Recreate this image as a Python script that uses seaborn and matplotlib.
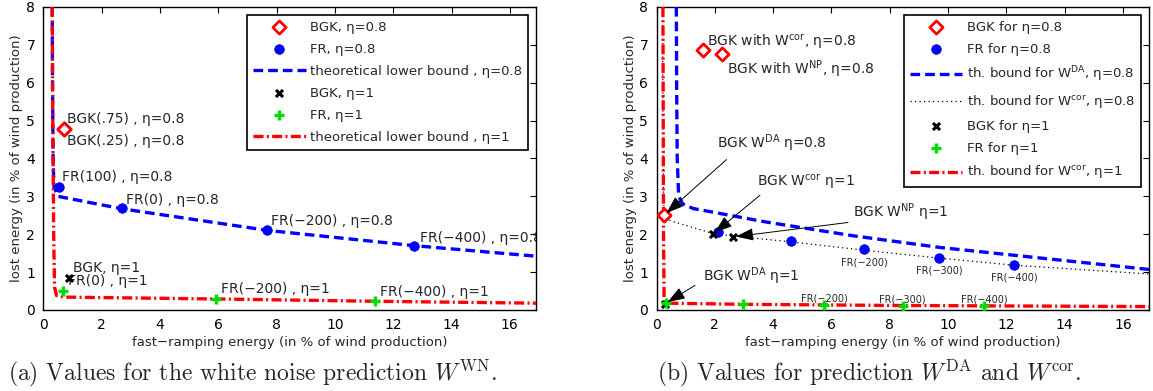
import matplotlib
matplotlib.use('Agg')
import pandas as pd
import seaborn as sns
import matplotlib.pyplot as plt

# ---- panel (a): white noise prediction ----
a_bgk08_x = [0.70, 0.72]
a_bgk08_y = [4.78, 4.77]
a_fr08_x = [0.52, 2.70, 7.66, 12.73]
a_fr08_y = [3.25, 2.68, 2.11, 1.68]
a_bound08_x = [0.30, 0.31, 0.33, 0.36, 0.50, 2.70, 7.70, 12.70, 16.9]
a_bound08_y = [8.0, 6.0, 4.0, 3.25, 3.00, 2.67, 2.10, 1.70, 1.42]
a_bgk1_x = [0.89]
a_bgk1_y = [0.84]
a_fr1_x = [0.66, 5.92, 11.39]
a_fr1_y = [0.51, 0.29, 0.23]
a_bound1_x = [0.30, 0.32, 0.35, 0.38, 0.45, 0.70, 6.0, 11.4, 16.9]
a_bound1_y = [8.0, 5.0, 2.0, 0.60, 0.38, 0.34, 0.29, 0.23, 0.18]

# ---- panel (b): W^DA and W^cor predictions ----
b_bgk08_x = [0.27, 1.58, 2.26]
b_bgk08_y = [2.51, 6.86, 6.75]
b_fr08_x = [2.12, 4.61, 7.13, 9.69, 12.27]
b_fr08_y = [2.05, 1.83, 1.60, 1.38, 1.20]
b_boundDA_x = [0.68, 0.69, 0.71, 0.76, 0.90, 1.25, 3.78, 6.74, 9.73, 16.9]
b_boundDA_y = [8.0, 6.0, 4.0, 3.00, 2.80, 2.68, 2.32, 1.96, 1.65, 1.07]
b_boundcor08_x = [0.21, 0.22, 0.24, 0.27, 0.50, 1.93, 2.63, 4.60, 7.10, 9.70, 12.30, 16.9]
b_boundcor08_y = [8.0, 5.0, 3.0, 2.45, 2.35, 2.02, 1.95, 1.80, 1.58, 1.37, 1.18, 0.95]
b_bgk1_x = [0.30, 1.93, 2.63]
b_bgk1_y = [0.17, 2.00, 1.93]
b_fr1_x = [0.33, 2.98, 5.76, 8.45, 11.23]
b_fr1_y = [0.18, 0.15, 0.13, 0.115, 0.115]
b_boundcor1_x = [0.22, 0.23, 0.24, 0.26, 0.35, 3.0, 8.0, 16.9]
b_boundcor1_y = [8.0, 5.0, 2.0, 0.30, 0.18, 0.15, 0.12, 0.09]
b_fr_labels = ['FR(\u2212200)', 'FR(\u2212300)', 'FR(\u2212400)']

sns.set_theme(style='white')
plt.rcParams['font.family'] = ['DejaVu Sans']
plt.rcParams['mathtext.fontset'] = 'dejavusans'
plt.rcParams['xtick.direction'] = 'in'
plt.rcParams['ytick.direction'] = 'in'

fig = plt.figure(figsize=(11.53, 3.91), dpi=100)
ax1 = fig.add_axes([0.0377, 0.2072, 0.4272, 0.775])
ax2 = fig.add_axes([0.5694, 0.2072, 0.4272, 0.775])

DASH = (0, (2.9, 1.5))
DASHDOT = (0, (3.0, 1.0, 0.6, 1.0))


def draw_markers(ax, x, y, kind, label):
    if kind == 'bgk08':
        sns.scatterplot(x=x, y=y, ax=ax, marker='D', s=45, facecolor='white',
                        edgecolor='red', linewidth=2, label=label, zorder=5)
    elif kind == 'fr08':
        sns.scatterplot(x=x, y=y, ax=ax, marker='o', s=48, color='blue',
                        edgecolor='blue', linewidth=0.5, label=label, zorder=5)
    elif kind == 'bgk1':
        sns.scatterplot(x=x, y=y, ax=ax, marker='x', s=26, color='black',
                        linewidth=2.2, label=label, zorder=6)
    elif kind == 'fr1':
        sns.scatterplot(x=x, y=y, ax=ax, marker='+', s=48, color='#00dd00',
                        linewidth=2.4, label=label, zorder=6)


def draw_line(ax, x, y, style, label):
    if style == 'blue':
        sns.lineplot(x=x, y=y, ax=ax, color='blue', lw=2.4, linestyle=DASH,
                     sort=False, estimator=None, label=label, zorder=3)
    elif style == 'red':
        sns.lineplot(x=x, y=y, ax=ax, color='red', lw=2.4, linestyle=DASHDOT,
                     sort=False, estimator=None, label=label, zorder=4)
    elif style == 'dot':
        sns.lineplot(x=x, y=y, ax=ax, color='black', lw=0.9,
                     linestyle=(0, (1, 2.6)), sort=False, estimator=None,
                     label=label, zorder=3)


# panel (a)
draw_markers(ax1, a_bgk08_x, a_bgk08_y, 'bgk08', 'BGK, η=0.8')
draw_markers(ax1, a_fr08_x, a_fr08_y, 'fr08', 'FR, η=0.8')
draw_line(ax1, a_bound08_x, a_bound08_y, 'blue', 'theoretical lower bound , η=0.8')
draw_markers(ax1, a_bgk1_x, a_bgk1_y, 'bgk1', 'BGK, η=1')
draw_markers(ax1, a_fr1_x, a_fr1_y, 'fr1', 'FR, η=1')
draw_line(ax1, a_bound1_x, a_bound1_y, 'red', 'theoretical lower bound , η=1')

fs = 10
a_texts = [
    (0.82, 5.05, 'BGK(.75) , η=0.8'),
    (0.82, 4.45, 'BGK(.25) , η=0.8'),
    (0.65, 3.50, 'FR(100) , η=0.8'),
    (2.84, 2.90, 'FR(0) , η=0.8'),
    (7.81, 2.36, 'FR(\u2212200) , η=0.8'),
    (12.92, 1.90, 'FR(\u2212400) , η=0.8'),
    (1.03, 1.10, 'BGK, η=1'),
    (0.83, 0.77, 'FR(0) , η=1'),
    (6.10, 0.55, 'FR(\u2212200) , η=1'),
    (11.56, 0.47, 'FR(\u2212400) , η=1'),
]
for tx, ty, s in a_texts:
    ax1.text(tx, ty, s, fontsize=fs, va='center', ha='left', clip_on=True)

# panel (b)
draw_markers(ax2, b_bgk08_x, b_bgk08_y, 'bgk08', 'BGK for η=0.8')
draw_markers(ax2, b_fr08_x, b_fr08_y, 'fr08', 'FR for η=0.8')
draw_line(ax2, b_boundDA_x, b_boundDA_y, 'blue', r'th. bound for W$^{\rm DA}$, η=0.8')
draw_line(ax2, b_boundcor08_x, b_boundcor08_y, 'dot', r'th. bound for W$^{\rm cor}$, η=0.8')
draw_markers(ax2, b_bgk1_x, b_bgk1_y, 'bgk1', 'BGK for η=1')
draw_markers(ax2, b_fr1_x, b_fr1_y, 'fr1', 'FR for η=1')
draw_line(ax2, b_boundcor1_x, b_boundcor1_y, 'red', r'th. bound for W$^{\rm cor}$, η=1')

ax2.text(1.72, 7.10, r'BGK with W$^{\rm cor}$, η=0.8', fontsize=fs, va='center')
ax2.text(2.41, 6.37, r'BGK with W$^{\rm NP}$, η=0.8', fontsize=fs, va='center')

arrows = [
    (r'BGK W$^{\rm DA}$ η=0.8', (2.07, 4.40), (2.40, 3.97), (0.27, 2.51)),
    (r'BGK W$^{\rm cor}$ η=1', (3.44, 3.38), (3.55, 3.03), (1.93, 2.00)),
    (r'BGK W$^{\rm NP}$ η=1', (6.74, 2.57), (6.57, 2.31), (2.63, 1.93)),
    (r'BGK W$^{\rm DA}$ η=1', (1.60, 0.88), (1.32, 0.65), (0.30, 0.17)),
]
for s, tpos, start, end in arrows:
    ax2.text(tpos[0], tpos[1], s, fontsize=fs, va='center', ha='left')
    ax2.annotate('', xy=end, xytext=start,
                 arrowprops=dict(arrowstyle='-|>,head_length=0.9,head_width=0.32',
                                 color='black', lw=0.7, shrinkA=0, shrinkB=2),
                 zorder=7)

small = 7
for px, py, lab in zip(b_fr08_x[2:], b_fr08_y[2:], b_fr_labels):
    ax2.text(px, py - 0.35, lab, fontsize=small, ha='center', va='center')
for px, py, lab in zip(b_fr1_x[2:], b_fr1_y[2:], b_fr_labels):
    ax2.text(px, py + 0.17, lab, fontsize=small, ha='center', va='center')

for ax in (ax1, ax2):
    ax.set_xlim(0, 16.9)
    ax.set_ylim(0, 8)
    ax.set_xticks(range(0, 17, 2))
    ax.set_yticks(range(0, 9))
    ax.tick_params(axis='both', which='both', direction='in', length=4,
                   width=0.8, top=True, right=True, labelsize=10, pad=6,
                   color='black', labelcolor='black')
    for sp in ax.spines.values():
        sp.set_color('black')
        sp.set_linewidth(1.0)
    ax.set_xlabel('fast\u2212ramping energy (in % of wind production)', fontsize=9.5, labelpad=3)
    ax.set_ylabel('lost energy (in % of wind production)', fontsize=9.5, labelpad=2)
    leg = ax.legend(loc='upper right', fontsize=9.5, frameon=True, fancybox=False,
                    handlelength=4.0, handletextpad=0.35, borderpad=0.45,
                    labelspacing=0.68, borderaxespad=0.6)
    leg.get_frame().set_edgecolor('black')
    leg.get_frame().set_linewidth(1.2)
    leg.get_frame().set_alpha(1)

fig.text(0.007, 0.046, r'(a) Values for the white noise prediction $W^{\rm WN}$.',
         family='cmr10', math_fontfamily='cm', fontsize=17, va='center')
fig.text(0.570, 0.046, r'(b) Values for prediction $W^{\rm DA}$ and $W^{\rm cor}$.',
         family='cmr10', math_fontfamily='cm', fontsize=17, va='center')

fig.savefig('out.png', dpi=100)
